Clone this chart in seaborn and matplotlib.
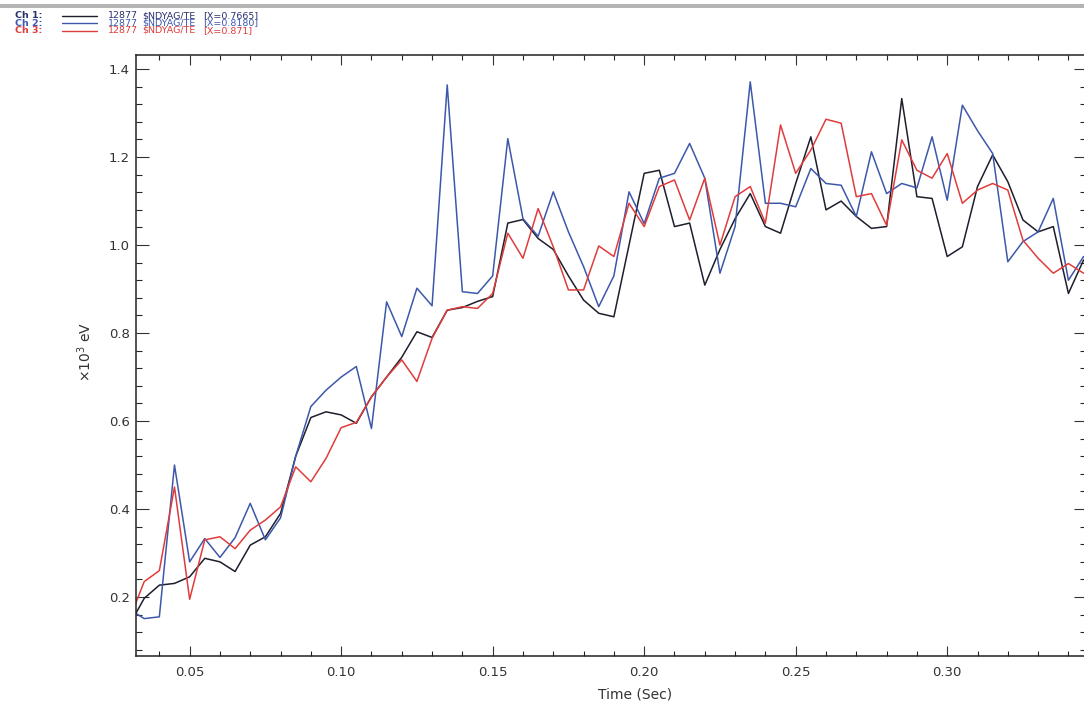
import numpy as np
import pandas as pd
import matplotlib
matplotlib.use("Agg")
import matplotlib.pyplot as plt
from matplotlib.lines import Line2D
from matplotlib.patches import Rectangle
from matplotlib.ticker import MultipleLocator
import seaborn as sns

# ---------------- data ----------------
time_s = [0.030, 0.035, 0.040, 0.045, 0.050, 0.055, 0.060, 0.065, 0.070, 0.075,
          0.080, 0.085, 0.090, 0.095, 0.100, 0.105, 0.110, 0.115, 0.120, 0.125,
          0.130, 0.135, 0.140, 0.145, 0.150, 0.155, 0.160, 0.165, 0.170, 0.175,
          0.180, 0.185, 0.190, 0.195, 0.200, 0.205, 0.210, 0.215, 0.220, 0.225,
          0.230, 0.235, 0.240, 0.245, 0.250, 0.255, 0.260, 0.265, 0.270, 0.275,
          0.280, 0.285, 0.290, 0.295, 0.300, 0.305, 0.310, 0.315, 0.320, 0.325,
          0.330, 0.335, 0.340, 0.345]

ch1 = [0.135, 0.197, 0.227, 0.231, 0.246, 0.288, 0.280, 0.258, 0.318, 0.337,
       0.390, 0.520, 0.608, 0.621, 0.614, 0.595, 0.655, 0.700, 0.745, 0.803,
       0.790, 0.852, 0.858, 0.872, 0.883, 1.050, 1.058, 1.015, 0.990, 0.930,
       0.875, 0.845, 0.837, 1.000, 1.163, 1.170, 1.042, 1.050, 0.909, 0.990,
       1.060, 1.117, 1.042, 1.027, 1.140, 1.246, 1.080, 1.100, 1.065, 1.038,
       1.042, 1.333, 1.110, 1.106, 0.974, 0.996, 1.133, 1.205, 1.144, 1.057,
       1.030, 1.042, 0.890, 0.966]

ch2 = [0.173, 0.151, 0.155, 0.500, 0.280, 0.333, 0.290, 0.335, 0.413, 0.330,
       0.380, 0.520, 0.633, 0.670, 0.700, 0.724, 0.583, 0.871, 0.792, 0.902,
       0.862, 1.364, 0.894, 0.890, 0.930, 1.242, 1.060, 1.020, 1.121, 1.030,
       0.951, 0.860, 0.930, 1.121, 1.049, 1.152, 1.163, 1.231, 1.152, 0.936,
       1.042, 1.371, 1.095, 1.095, 1.087, 1.174, 1.140, 1.136, 1.065, 1.212,
       1.117, 1.140, 1.130, 1.246, 1.102, 1.318, 1.260, 1.208, 0.962, 1.008,
       1.030, 1.106, 0.920, 0.974]

ch3 = [0.147, 0.235, 0.260, 0.450, 0.195, 0.330, 0.337, 0.310, 0.352, 0.375,
       0.405, 0.496, 0.462, 0.515, 0.585, 0.597, 0.655, 0.700, 0.739, 0.690,
       0.788, 0.852, 0.860, 0.856, 0.890, 1.027, 0.970, 1.083, 0.996, 0.898,
       0.898, 0.998, 0.974, 1.095, 1.042, 1.133, 1.148, 1.057, 1.152, 1.000,
       1.110, 1.133, 1.050, 1.273, 1.163, 1.216, 1.286, 1.277, 1.110, 1.117,
       1.045, 1.239, 1.170, 1.152, 1.208, 1.095, 1.125, 1.140, 1.125, 1.011,
       0.970, 0.936, 0.958, 0.936]

channel_names = ["Ch 1", "Ch 2", "Ch 3"]
legend_shot = "12877"
legend_signal = "$NDYAG/TE"
legend_pos = ["[X=0.7665]", "[X=0.8180]", "[X=0.871]"]
x_tick_labels = ["0.05", "0.10", "0.15", "0.20", "0.25", "0.30"]
y_tick_labels = ["0.2", "0.4", "0.6", "0.8", "1.0", "1.2", "1.4"]

colors = {"Ch 1": "#1e1e2c", "Ch 2": "#3d58aa", "Ch 3": "#e03c3c"}
text_colors = ["#2a3170", "#3d58b0", "#e03c3c"]

df = pd.concat([
    pd.DataFrame({"t": time_s, "v": vals, "ch": name})
    for name, vals in zip(channel_names, [ch1, ch2, ch3])
], ignore_index=True)

# ---------------- figure ----------------
sns.set_style("white")
plt.rcParams["font.family"] = ["DejaVu Sans"]

W, H = 1084, 704
fig = plt.figure(figsize=(W / 100, H / 100), dpi=100)
ax_l, ax_r, ax_t, ax_b = 136, 1086, 55, 656
ax = fig.add_axes([ax_l / W, 1 - ax_b / H, (ax_r - ax_l) / W, (ax_b - ax_t) / H])

sns.lineplot(data=df, x="t", y="v", hue="ch", palette=colors, ax=ax,
             linewidth=1.1, legend=False, sort=False, estimator=None)

ax.set_xlim(0.0323, 0.3458)
ax.set_ylim(0.066, 1.432)

ax.set_xticks([float(s) for s in x_tick_labels])
ax.set_xticklabels(x_tick_labels)
ax.set_yticks([float(s) for s in y_tick_labels])
ax.set_yticklabels(y_tick_labels)
ax.xaxis.set_minor_locator(MultipleLocator(0.01))
ax.yaxis.set_minor_locator(MultipleLocator(0.04))

ax.tick_params(axis="x", which="major", direction="in", length=7.5, width=0.8,
               top=True, bottom=True, labelsize=9.5, pad=7, colors="#333333")
ax.tick_params(axis="x", which="minor", direction="in", length=3.8, width=0.8,
               top=True, bottom=True)
ax.tick_params(axis="y", which="major", direction="in", length=9, width=0.8,
               left=True, right=True, labelsize=9.5, pad=4.5, colors="#333333")
ax.tick_params(axis="y", which="minor", direction="in", length=4.5, width=0.8,
               left=True, right=True)

for s in ax.spines.values():
    s.set_linewidth(1.1)
    s.set_color("#222222")

ax.set_xlabel("")
ax.set_ylabel("")
fig.text(635 / W, 1 - 695 / H, "Time (Sec)", fontsize=10, color="#333333",
         ha="center", va="center")
fig.text(85 / W, 1 - 352 / H, r"$\times$10$^3$ eV", fontsize=10, color="#333333",
         ha="center", va="center", rotation=90)

# top gray band
fig.add_artist(Rectangle((0, 1 - 8 / H), 1, 4 / H, transform=fig.transFigure,
                         color="#b4b4b4", lw=0))

# legend-like header
rows_y = [15.5, 23, 30.5]
for i in range(3):
    yy = 1 - rows_y[i] / H
    c = text_colors[i]
    fig.text(15 / W, yy, channel_names[i] + ":", fontsize=6.8, color=c,
             va="center", ha="left", fontweight="bold")
    fig.add_artist(Line2D([62 / W, 97 / W], [yy, yy], transform=fig.transFigure,
                          color=list(colors.values())[i], lw=1.0))
    fig.text(108 / W, yy, legend_shot, fontsize=6.8, color=c, va="center", ha="left")
    fig.text(142 / W, yy, legend_signal.replace("$", r"\$"), fontsize=6.8, color=c,
             va="center", ha="left")
    fig.text(203 / W, yy, legend_pos[i], fontsize=6.8, color=c, va="center", ha="left")

fig.savefig("out.png", dpi=100, facecolor="white")
